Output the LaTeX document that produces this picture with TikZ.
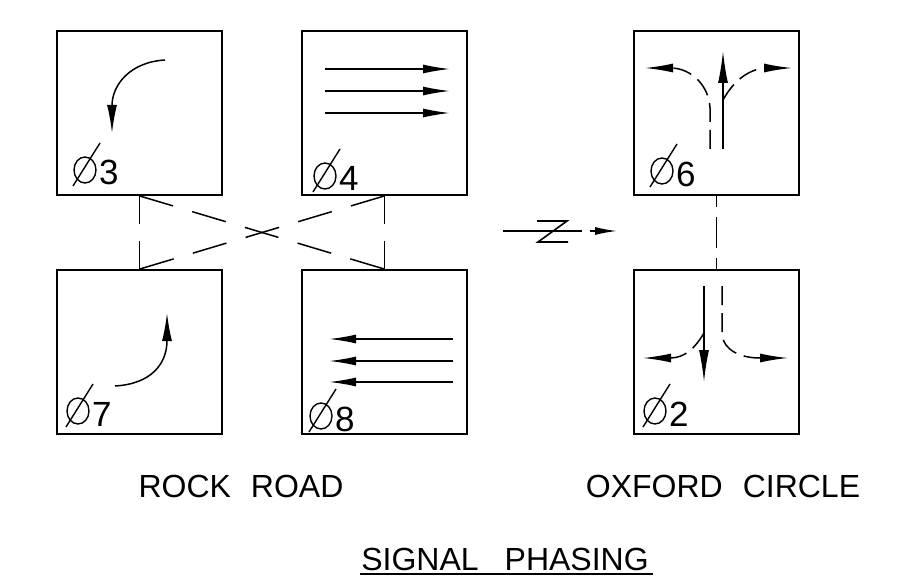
\documentclass[tikz,border=0pt]{standalone}
\usepackage{fontspec}
\setmainfont{Liberation Sans}
\usetikzlibrary{arrows.meta}
\begin{document}
\begin{tikzpicture}[x=1pt,y=-1pt,
  box/.style={draw, line width=1.8pt, minimum width=165pt, minimum height=164pt, inner sep=0pt},
  conn/.style={line width=1.5pt, dash pattern=on 28pt off 17pt},
  xconn/.style={line width=1.5pt, dash pattern=on 35pt off 20pt},
  cconn/.style={line width=1.5pt, dash pattern=on 11pt off 10pt on 31pt off 10pt on 11pt off 0pt},
  mv/.style={line width=1.5pt, -{Latex[length=27pt,width=9pt]}},
  thru/.style={line width=1.5pt, -{Latex[length=32pt,width=10pt]}},
  turn/.style={line width=1.5pt, dash pattern=on 19pt off 8pt, -{Latex[length=28pt,width=9pt]}},
  symline/.style={line width=1.4pt},
  digit/.style={font=\fontsize{35}{40}\selectfont, inner sep=0pt, anchor=base west},
  label/.style={font=\fontsize{32}{36}\selectfont, inner sep=0pt, anchor=base},
  phase/.pic={
    \draw[symline] (0,0) -- (27,-43);
    \draw[symline] (12,-16) ellipse [x radius=11pt, y radius=13pt];
    \node[digit] at (26,-1) {#1};
  }
]
\useasboundingbox (0,0) rectangle (899,588);

% boxes
\node[box] (b3) at (139.5,113) {};
\node[box] (b4) at (384.5,113) {};
\node[box] (b6) at (716.5,113) {};
\node[box] (b7) at (139.5,352) {};
\node[box] (b8) at (384.5,352) {};
\node[box] (b2) at (716.5,352) {};

% dashed connectors
\draw[conn] (b3.south) -- (b7.north);
\draw[conn] (b4.south) -- (b8.north);
\draw[xconn] (b3.south) -- (b8.north);
\draw[xconn] (b4.south) -- (b7.north);
\draw[cconn] (b6.south) -- (b2.north);

% phase 3: left turn
\draw[mv, -{Latex[length=28pt,width=10pt]}] (165,60) .. controls (130,62) and (112,85) .. (112,133);
% phase 4: through eastbound
\draw[mv] (325,69) -- (450,69);
\draw[mv] (325,91) -- (450,91);
\draw[mv] (325,113) -- (450,113);
% phase 7: left turn
\draw[mv, -{Latex[length=28pt,width=10pt]}] (115,386) .. controls (150,384) and (167,365) .. (167,313);
% phase 8: through westbound
\draw[mv] (453,339) -- (329,339);
\draw[mv] (453,361) -- (329,361);
\draw[mv] (453,382) -- (329,382);

% phase 6
\draw[thru] (723,149) -- (723,51);
\draw[turn] (710,149) -- (710,108) .. controls (709,86) and (692,69) .. (672,68) -- (645,68);
\draw[turn] (723,100) .. controls (734,80) and (750,68) .. (768,68) -- (792,68);
% phase 2
\draw[thru] (704,286) -- (704,382);
\draw[turn] (722,286) -- (722,335) .. controls (724,350) and (740,358) .. (760,358) -- (788,358);
\draw[turn] (704,333) .. controls (695,348) and (685,358) .. (670,358) -- (643,358);

% phase symbols
\pic at (73,186) {phase=3};
\pic at (313,192) {phase=4};
\pic at (650,187) {phase=6};
\pic at (66,427) {phase=7};
\pic at (309,432) {phase=8};
\pic at (643,427) {phase=2};

% north arrow
\coordinate (na1) at (503,231);
\coordinate (na2) at (582,231);
\draw[line width=1.5pt] (na1) -- (na2);
\draw[line width=1.6pt] (537,221) -- (567,221) -- (538,242) -- (568,242);
\coordinate (nt1) at (590,231);
\coordinate (nt2) at (617,231);
\draw[line width=1.5pt, -{Latex[length=22pt,width=8pt]}] (nt1) -- (nt2);

% labels
\node[label] (rr) at (241,497) {ROCK\hspace{20pt}ROAD};
\node[label] (oc) at (723,497) {OXFORD\hspace{20pt}CIRCLE};
\node[label] (sp) at (505,570) {SIGNAL\hspace{26pt}PHASING};
\draw[line width=1.4pt] ([yshift=-4pt,xshift=-1pt]sp.base west) -- ([yshift=-4pt,xshift=4pt]sp.base east);
\end{tikzpicture}
\end{document}
